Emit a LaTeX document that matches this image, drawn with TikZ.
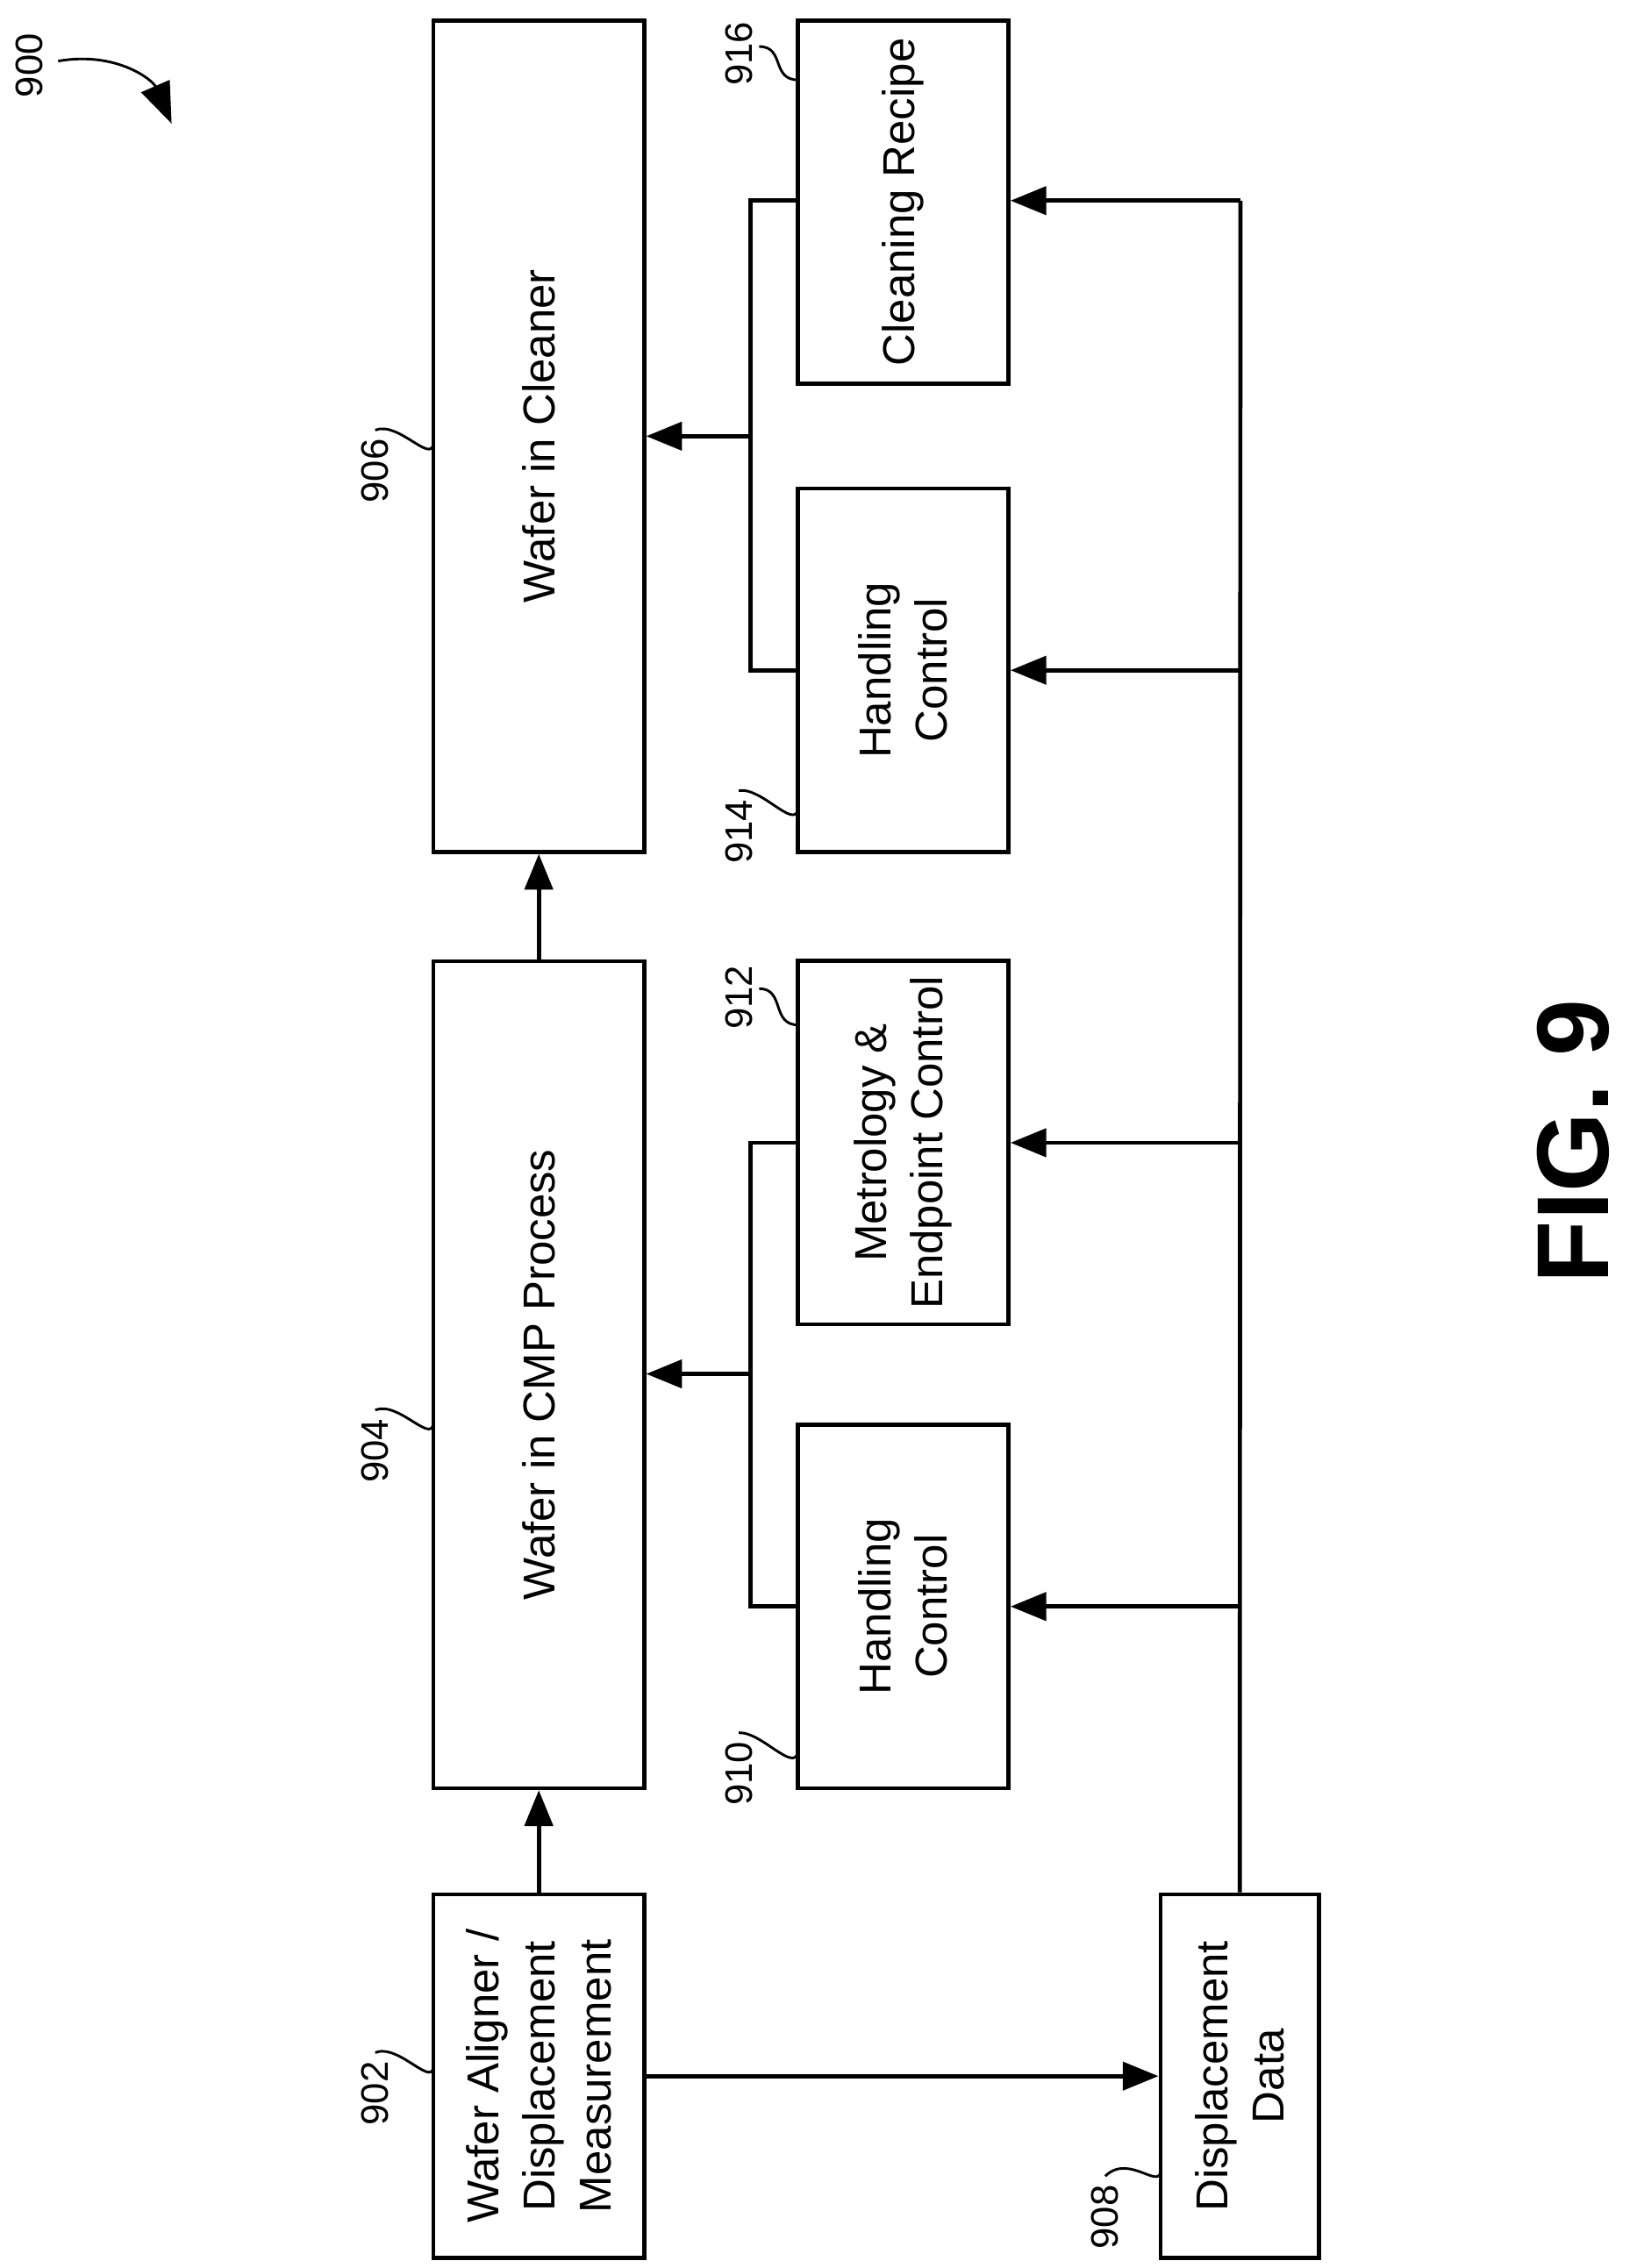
\documentclass[tikz,border=0pt]{standalone}
\usepackage{fontspec}
\setmainfont{Liberation Sans}
\usetikzlibrary{arrows.meta}
\begin{document}
\begin{tikzpicture}[x=0.02cm,y=-0.02cm,
  box/.style={draw, line width=1.6pt, minimum width=2.9cm, minimum height=5cm, inner sep=0pt},
  txt/.style={rotate=90, align=center, font=\fontsize{17.5}{22}\selectfont},
  num/.style={rotate=90, font=\fontsize{15}{17}\selectfont},
  lead/.style={line width=1pt},
  con/.style={line width=1.6pt},
  arr/.style={con, -{Triangle[length=14pt,width=11pt]}}]
\useasboundingbox (0,0) rectangle (1130,1560);
% boxes
\node[box] (b902) at (370.5,1428) {};
\node[txt] (t902) at (b902) {Wafer Aligner /\\Displacement\\Measurement};
\node[box, minimum height=11.38cm] (b904) at (370.5,945.5) {};
\node[txt] (t904) at (b904) {Wafer in CMP Process};
\node[box, minimum height=11.44cm] (b906) at (370.5,300) {};
\node[txt] (t906) at (b906) {Wafer in Cleaner};
\node[box, minimum width=2.18cm] (b908) at (852.5,1428) {};
\node[txt] (t908) at (b908) {Displacement\\Data};
\node[box] (b910) at (621,1105) {};
\node[txt] (t910) at (b910) {Handling\\Control};
\node[box] (b912) at (621,786) {};
\node[txt] (t912) at (b912) {Metrology \&\\Endpoint Control};
\node[box] (b914) at (621,461) {};
\node[txt] (t914) at (b914) {Handling\\Control};
\node[box] (b916) at (621,139) {};
\node[txt] (t916) at (b916) {Cleaning Recipe};
% reference numbers
\node[num] (n902) at (258,1440) {902};
\node[num] (n904) at (258,998) {904};
\node[num] (n906) at (258,324) {906};
\node[num] (n908) at (760,1525) {908};
\node[num] (n910) at (508,1220) {910};
\node[num] (n912) at (508,686) {912};
\node[num] (n914) at (508,572) {914};
\node[num] (n916) at (508,37) {916};
\node[num] (n900) at (20,45) {900};
\draw[lead] (n902.east) .. controls (275,1405) and (300,1440) .. (298,1418);
\draw[lead] (n904.east) .. controls (275,963) and (300,998) .. (298,975);
\draw[lead] (n906.east) .. controls (275,289) and (300,324) .. (298,301);
\draw[lead] (n908.east) .. controls (777,1480) and (800,1510) .. (798,1490);
\draw[lead] (n910.east) .. controls (525,1191) and (550,1225) .. (549,1200);
\draw[lead] (522,680) .. controls (540,680) and (530,705) .. (549,705);
\draw[lead] (n914.east) .. controls (525,541) and (550,576) .. (549,552);
\draw[lead] (522,32) .. controls (540,32) and (530,55) .. (549,55);
\draw[lead, -{Triangle[length=16pt,width=12pt]}] (40,42) .. controls (80,35) and (105,55) .. (118,85);
% main flow
\draw[arr] (b902.north) -- (b904.south);
\draw[arr] (b904.north) -- (b906.south);
\draw[arr] (b902.east) -- (b908.west);
% displacement data bus
\coordinate (bus) at (853,138);
\draw[con] (b908.north) -- (bus);
\draw[arr] (853,1105) -- (b910.east);
\draw[arr] (853,786) -- (b912.east);
\draw[arr] (853,461) -- (b914.east);
\draw[arr] (bus) -- (b916.east |- bus);
% controls into process boxes
\draw[con] (b910.west) -- (516,1105) -- (516,786) -- (b912.west);
\draw[arr] (516,945) -- (b904.east |- 516,945);
\draw[con] (b914.west) -- (516,461) -- (516,138) -- (b916.west |- 516,138);
\draw[arr] (516,300) -- (b906.east);
\node[rotate=90, font=\fontsize{40}{42}\selectfont\bfseries] (fig) at (1082,785) {FIG. 9};
\end{tikzpicture}
\end{document}
